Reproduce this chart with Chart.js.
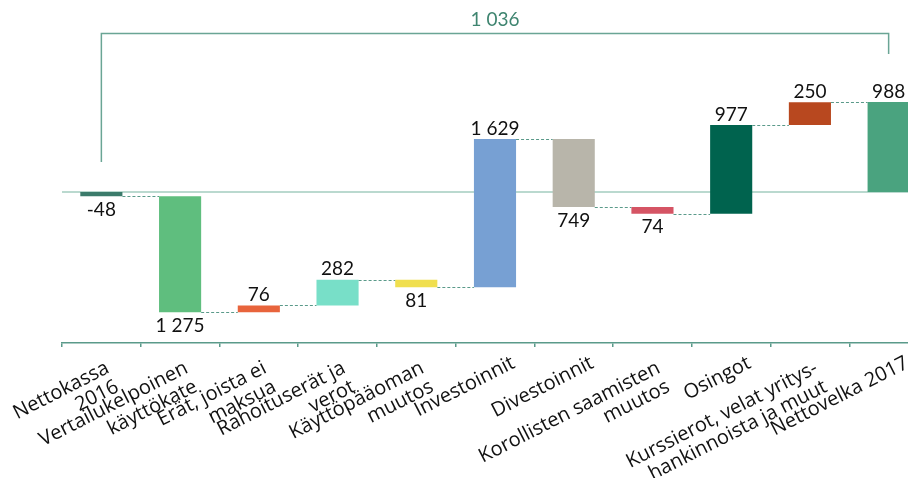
<!DOCTYPE html>
<html lang="fi">
<head>
<meta charset="UTF-8">
<title>Nettovelka 2016-2017</title>
<script src="https://cdn.jsdelivr.net/npm/chart.js@4.4.1/dist/chart.umd.min.js"></script>
<style>
    html, body { margin: 0; padding: 0; overflow: hidden; background: #fff; }
    canvas { display: block; }
</style>
</head>
<body>
<canvas id="myChart" width="928" height="478"></canvas>
<script>
    // categories (multi-line labels as arrays)
    const categories = [
        ['Nettokassa', '2016'],
        ['Vertailukelpoinen', 'käyttökate'],
        ['Erät, joista ei', 'maksua'],
        ['Rahoituserät ja', 'verot'],
        ['Käyttöpääoman', 'muutos'],
        ['Investoinnit'],
        ['Divestoinnit'],
        ['Korollisten saamisten', 'muutos'],
        ['Osingot'],
        ['Kurssierot, velat yritys-', 'hankinnoista ja muut'],
        ['Nettovelka 2017']
    ];
    // signed changes; first and last are totals
    const changes = [-48, -1275, 76, 282, -81, 1629, -749, -74, 977, 250, 988];
    const isTotal = [true, false, false, false, false, false, false, false, false, false, true];
    const barColors = ['#3b7b6b', '#5fbe7e', '#e8643c', '#78dfc8', '#f0df4e', '#77a0d3',
                       '#b8b5aa', '#d55464', '#00634e', '#b8481f', '#4aa37f'];

    const axisColor = '#5a9a8a';
    const lineColor = '#6aa595';

    // floating bars [start, end]
    const bars = [];
    let level = 0;
    for (let i = 0; i < changes.length; i++) {
        if (isTotal[i]) {
            bars.push([0, changes[i]]);
            level = changes[i];
        } else {
            bars.push([level, level + changes[i]]);
            level += changes[i];
        }
    }

    function fmt(v) {
        const s = Math.abs(v).toString().replace(/\B(?=(\d{3})+(?!\d))/g, ' ');
        return v < 0 ? '-' + s : s;
    }

    const waterfall = {
        id: 'waterfall',
        beforeDatasetsDraw(chart) {
            const ctx = chart.ctx;
            const area = chart.chartArea;
            const y0 = chart.scales.y.getPixelForValue(0);
            ctx.save();
            ctx.strokeStyle = '#a3ccbf';
            ctx.lineWidth = 1.5;
            ctx.beginPath();
            ctx.moveTo(area.left, y0);
            ctx.lineTo(area.right, y0);
            ctx.stroke();
            ctx.restore();
        },
        afterDatasetsDraw(chart) {
            const ctx = chart.ctx;
            const xs = chart.scales.x, ys = chart.scales.y;
            const area = chart.chartArea;
            const meta = chart.getDatasetMeta(0);

            // connectors
            ctx.save();
            ctx.strokeStyle = axisColor;
            ctx.lineWidth = 1;
            ctx.setLineDash([3, 2]);
            for (let i = 0; i < bars.length - 1; i++) {
                const a = meta.data[i], b = meta.data[i + 1];
                const yy = Math.round(ys.getPixelForValue(bars[i][1])) + 0.5;
                ctx.beginPath();
                ctx.moveTo(a.x + a.width / 2, yy);
                ctx.lineTo(b.x - b.width / 2, yy);
                ctx.stroke();
            }
            ctx.restore();

            // value labels
            ctx.save();
            ctx.font = '19px Lato';
            ctx.fillStyle = '#111';
            ctx.textAlign = 'center';
            for (let i = 0; i < bars.length; i++) {
                const el = meta.data[i];
                const up = bars[i][1] > bars[i][0];
                const topPx = ys.getPixelForValue(Math.max(bars[i][0], bars[i][1]));
                const botPx = ys.getPixelForValue(Math.min(bars[i][0], bars[i][1]));
                const label = isTotal[i] ? fmt(changes[i]) : fmt(Math.abs(changes[i]));
                if (up) {
                    ctx.textBaseline = 'bottom';
                    ctx.fillText(label, el.x, topPx - 1);
                } else {
                    ctx.textBaseline = 'top';
                    ctx.fillText(label, el.x, botPx + 4);
                }
            }
            ctx.restore();

            // bracket between first and last bar
            const first = meta.data[0], last = meta.data[bars.length - 1];
            const firstTop = ys.getPixelForValue(Math.max(0, changes[0]));
            const lastTop = ys.getPixelForValue(changes[changes.length - 1]);
            const topY = 33.5;
            ctx.save();
            ctx.strokeStyle = lineColor;
            ctx.lineWidth = 1.5;
            ctx.beginPath();
            ctx.moveTo(first.x, firstTop - 30);
            ctx.lineTo(first.x, topY);
            ctx.lineTo(last.x, topY);
            ctx.lineTo(last.x, lastTop - 48);
            ctx.stroke();
            ctx.font = '19px Lato';
            ctx.fillStyle = '#3f8570';
            ctx.textAlign = 'center';
            ctx.textBaseline = 'bottom';
            ctx.fillText(fmt(changes[changes.length - 1] - changes[0]), (first.x + last.x) / 2, topY - 4);
            ctx.restore();

            // category labels, rotated, right aligned lines
            ctx.save();
            ctx.font = '20px "Open Sans"';
            ctx.fillStyle = '#111';
            ctx.textAlign = 'right';
            ctx.textBaseline = 'alphabetic';
            const deg = 27 * Math.PI / 180;
            const lh = 21;
            categories.forEach((lines, i) => {
                const n = lines.length - 1;
                ctx.save();
                ctx.translate(xs.getPixelForValue(i) + 21 - n * 12, area.bottom + 24 + n * 5);
                ctx.rotate(-deg);
                lines.forEach((ln, j) => ctx.fillText(ln, 0, j * lh));
                ctx.restore();
            });
            ctx.restore();
        }
    };

    const ctx = document.getElementById('myChart').getContext('2d');
    const myChart = new Chart(ctx, {
        type: 'bar',
        data: {
            labels: categories.map(c => c.join(' ')),
            datasets: [{
                data: bars,
                backgroundColor: barColors,
                borderWidth: 0,
                categoryPercentage: 1,
                barPercentage: 0.535
            }]
        },
        options: {
            responsive: false,
            animation: false,
            devicePixelRatio: 1,
            layout: { padding: { left: 62, top: 10, right: 0, bottom: 0 } },
            plugins: {
                legend: { display: false },
                tooltip: { enabled: false }
            },
            scales: {
                x: {
                    offset: true,
                    grid: { drawOnChartArea: false, offset: true, color: axisColor, tickLength: 4, lineWidth: 1.5 },
                    border: { color: axisColor, width: 1.5 },
                    ticks: { display: false },
                    afterFit: s => { s.height = 135; }
                },
                y: {
                    display: false,
                    min: -1660,
                    max: 2000
                }
            }
        },
        plugins: [waterfall]
    });
</script>
</body>
</html>
